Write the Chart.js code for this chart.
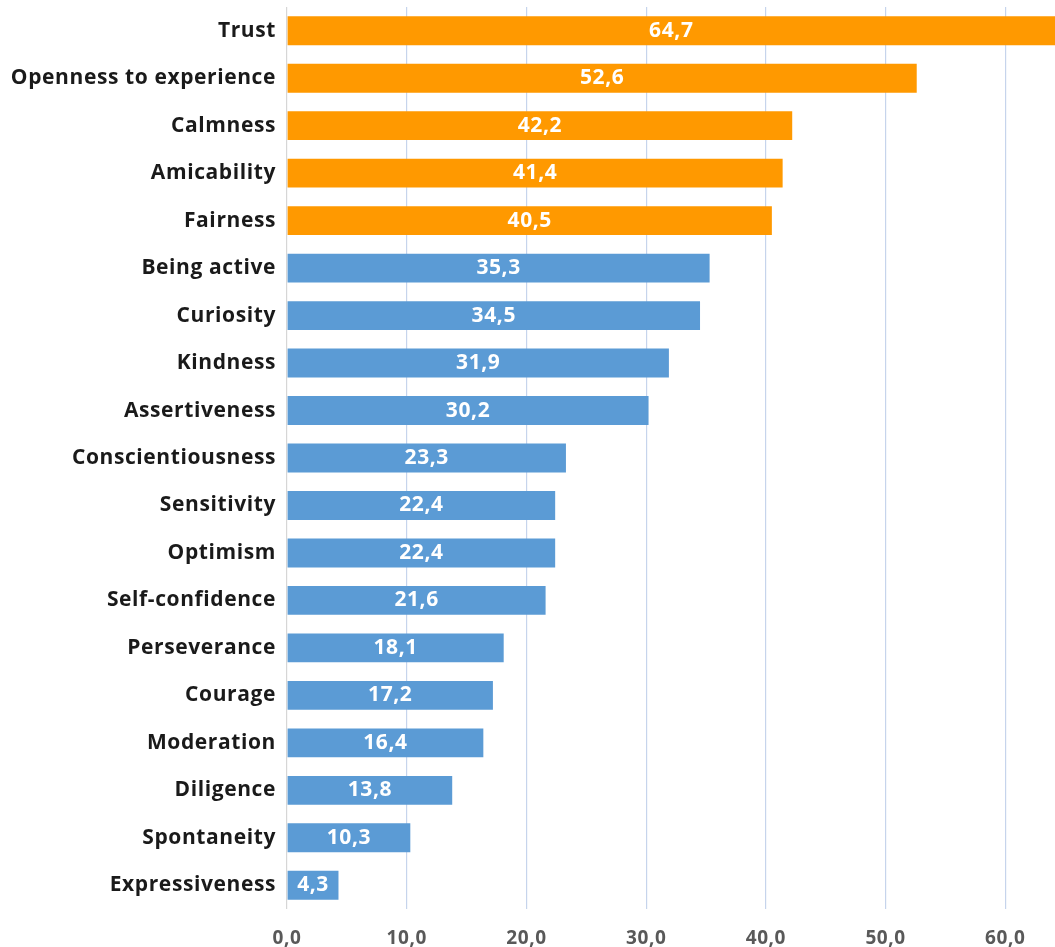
<!DOCTYPE html>
<html>
<head>
<meta charset="utf-8">
<script src="https://cdn.jsdelivr.net/npm/chart.js@4"></script>
<style>
  html, body { margin: 0; padding: 0; background: #fff; }
  #wrap { width: 1055px; height: 947px; }
</style>
</head>
<body>
<div id="wrap"><canvas id="c"></canvas></div>
<script>
// Personality traits and their shares (%)
const traits = [
  'Trust', 'Openness to experience', 'Calmness', 'Amicability', 'Fairness',
  'Being active', 'Curiosity', 'Kindness', 'Assertiveness', 'Conscientiousness',
  'Sensitivity', 'Optimism', 'Self-confidence', 'Perseverance', 'Courage',
  'Moderation', 'Diligence', 'Spontaneity', 'Expressiveness'
];
const shares = [
  64.7, 52.6, 42.2, 41.4, 40.5,
  35.3, 34.5, 31.9, 30.2, 23.3,
  22.4, 22.4, 21.6, 18.1, 17.2,
  16.4, 13.8, 10.3, 4.3
];
// Top group (first five traits) drawn in orange, the rest in blue
const topGroupSize = 5;
const xTicks = [0, 10, 20, 30, 40, 50, 60];

const ORANGE = '#FF9900';
const BLUE = '#5B9BD5';
const FONT = "'Open Sans', 'Roboto', sans-serif";
const SPACING = '0.6px';

const fmt = v => v.toFixed(1).replace('.', ',');

// Slightly wider letter spacing for all chart text
const textSpacing = {
  id: 'textSpacing',
  beforeDraw(chart) { chart.ctx.letterSpacing = SPACING; }
};

// White value labels centred on the visible part of each bar
const valueLabels = {
  id: 'valueLabels',
  afterDatasetsDraw(chart) {
    const { ctx, chartArea } = chart;
    const meta = chart.getDatasetMeta(0);
    ctx.save();
    ctx.letterSpacing = SPACING;
    ctx.font = `bold 21px ${FONT}`;
    ctx.fillStyle = '#ffffff';
    ctx.textAlign = 'center';
    ctx.textBaseline = 'middle';
    meta.data.forEach((bar, i) => {
      const end = Math.min(bar.x, chartArea.right);
      const start = Math.max(bar.base, chartArea.left);
      ctx.fillText(fmt(shares[i]), (start + end) / 2, bar.y);
    });
    ctx.restore();
  }
};

new Chart(document.getElementById('c'), {
  type: 'bar',
  data: {
    labels: traits,
    datasets: [{
      data: shares,
      backgroundColor: shares.map((_, i) => i < topGroupSize ? ORANGE : BLUE),
      borderWidth: 0,
      barPercentage: 0.76,
      categoryPercentage: 0.8
    }]
  },
  options: {
    indexAxis: 'y',
    responsive: true,
    maintainAspectRatio: false,
    animation: false,
    layout: { padding: { top: 7, right: 0, left: 0, bottom: 0 } },
    plugins: {
      legend: { display: false },
      tooltip: { enabled: false }
    },
    scales: {
      x: {
        min: 0,
        max: 64.15,
        afterBuildTicks(scale) {
          scale.ticks = xTicks.map(v => ({ value: v }));
        },
        afterFit(scale) {
          scale.height = 38;
          scale.paddingLeft = 0;
          scale.paddingRight = 0;
        },
        ticks: {
          callback: v => fmt(v),
          color: '#595959',
          font: { family: FONT, size: 19, weight: 'bold' },
          padding: 18,
          maxRotation: 0
        },
        grid: {
          drawTicks: false,
          lineWidth: 1.2,
          color: ctx => ctx.tick && ctx.tick.value === 0 ? '#d6d6d6' : '#c6d4ec'
        },
        border: { display: false }
      },
      y: {
        afterFit(scale) {
          scale.width = 287;
          scale.paddingTop = 0;
          scale.paddingBottom = 0;
        },
        ticks: {
          color: '#1a1a1a',
          font: { family: FONT, size: 21, weight: 'bold' },
          padding: 11,
          autoSkip: false
        },
        grid: { display: false, drawTicks: false },
        border: { display: false }
      }
    }
  },
  plugins: [textSpacing, valueLabels]
});
</script>
</body>
</html>
